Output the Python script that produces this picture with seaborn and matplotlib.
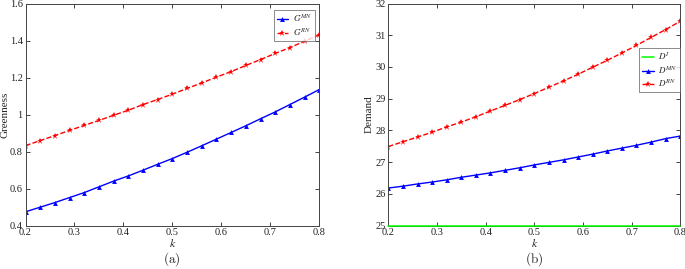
import numpy as np
import pandas as pd
import matplotlib
matplotlib.use("Agg")
import matplotlib.pyplot as plt
import seaborn as sns

k = [0.20, 0.23, 0.26, 0.29, 0.32, 0.35, 0.38, 0.41, 0.44, 0.47, 0.50,
     0.53, 0.56, 0.59, 0.62, 0.65, 0.68, 0.71, 0.74, 0.77, 0.80]
G_MN = [0.474, 0.499, 0.524, 0.551, 0.578, 0.609, 0.640, 0.668, 0.699, 0.731, 0.762,
        0.796, 0.831, 0.867, 0.903, 0.939, 0.977, 1.014, 1.054, 1.094, 1.135]
G_RN = [0.832, 0.859, 0.886, 0.914, 0.941, 0.968, 0.996, 1.023, 1.054, 1.081, 1.110,
        1.141, 1.171, 1.202, 1.232, 1.265, 1.297, 1.330, 1.362, 1.396, 1.431]
D_I = [25.0] * 21
D_MN = [26.18, 26.24, 26.31, 26.37, 26.44, 26.52, 26.59, 26.66, 26.74, 26.82, 26.91,
        26.99, 27.07, 27.16, 27.25, 27.35, 27.44, 27.53, 27.63, 27.74, 27.82]
D_RN = [27.49, 27.64, 27.79, 27.94, 28.11, 28.26, 28.43, 28.61, 28.79, 28.97, 29.16,
        29.36, 29.56, 29.77, 29.99, 30.21, 30.44, 30.68, 30.93, 31.18, 31.44]

x_ticks = [0.2, 0.3, 0.4, 0.5, 0.6, 0.7, 0.8]
g_ticks = [0.4, 0.6, 0.8, 1.0, 1.2, 1.4, 1.6]
g_tick_labels = ["0.4", "0.6", "0.8", "1", "1.2", "1.4", "1.6"]
d_ticks = [25, 26, 27, 28, 29, 30, 31, 32]

sns.set_style("ticks")
plt.rcParams["font.family"] = ["Liberation Serif", "DejaVu Serif"]
plt.rcParams["mathtext.fontset"] = "stix"

fig = plt.figure(figsize=(6.85, 2.69), dpi=100)
W, H = 685, 269
ax1 = fig.add_axes([25.5 / W, 1 - 225.5 / H, (319.3 - 25.5) / W, (225.5 - 3.5) / H])
ax2 = fig.add_axes([388.3 / W, 1 - 225.5 / H, (680.3 - 388.3) / W, (225.5 - 3.5) / H])

blue = "#0000ff"
red = "#ff0000"
green = "#00ff00"

sns.lineplot(x=k, y=G_MN, ax=ax1, color=blue, marker="^", markersize=3.5,
             markeredgewidth=0, linewidth=1.0, label=r"$G^{MN}$")
sns.lineplot(x=k, y=G_RN, ax=ax1, color=red, marker="*", markersize=5,
             markeredgewidth=0, linewidth=1.0, linestyle="--", label=r"$G^{RN}$")

sns.lineplot(x=k, y=D_I, ax=ax2, color=green, linewidth=1.1, label=r"$D^{I}$",
             clip_on=False, zorder=3)
sns.lineplot(x=k, y=D_MN, ax=ax2, color=blue, marker="^", markersize=3.5,
             markeredgewidth=0, linewidth=1.0, label=r"$D^{MN}$")
sns.lineplot(x=k, y=D_RN, ax=ax2, color=red, marker="*", markersize=5,
             markeredgewidth=0, linewidth=1.0, linestyle="--", label=r"$D^{RN}$")

for ax in (ax1, ax2):
    ax.set_xlim(0.2, 0.8)
    ax.set_xticks(x_ticks)
    ax.set_xticklabels([f"{t:g}" for t in x_ticks])
    ax.tick_params(direction="in", top=True, right=True, length=3, width=0.6,
                   labelsize=7.5, pad=2, colors="#222222")
    for s in ax.spines.values():
        s.set_linewidth(0.7)
        s.set_color("#444444")
    ax.set_xlabel(r"$k$", fontsize=8.5, va="center")
    ax.xaxis.set_label_coords(0.5, -(244 - 225.5) / 222)

ax1.set_ylim(0.4, 1.6)
ax1.set_yticks(g_ticks)
ax1.set_yticklabels(g_tick_labels)
ax1.set_ylabel("Greenness", fontsize=8, va="center")
ax1.yaxis.set_label_coords((5.0 - 25.5) / 293.8, 0.5)

ax2.set_ylim(25, 32)
ax2.set_yticks(d_ticks)
ax2.set_ylabel("Demand", fontsize=8, va="center")
ax2.yaxis.set_label_coords((369.5 - 388.3) / 292, 0.5)

leg_kw = dict(fontsize=6.5, frameon=True, fancybox=False, handlelength=1.3,
              handletextpad=0.5, borderpad=0.3, labelspacing=0.25, edgecolor="#555555")
leg1 = ax1.legend(loc="upper right", bbox_to_anchor=(0.985, 0.97), borderaxespad=0.0, **leg_kw)
leg1.get_frame().set_linewidth(0.6)
leg2 = ax2.legend(loc="upper right", bbox_to_anchor=(1.0, 0.80), borderaxespad=0.0, **leg_kw)
leg2.get_frame().set_linewidth(0.6)

fig.text(172 / W, 1 - 259 / H, r"$\mathrm{(a)}$", ha="center", va="center",
         fontsize=9.5, math_fontfamily="cm")
fig.text(534 / W, 1 - 259 / H, r"$\mathrm{(b)}$", ha="center", va="center",
         fontsize=9.5, math_fontfamily="cm")

fig.savefig("out.png", dpi=100)
